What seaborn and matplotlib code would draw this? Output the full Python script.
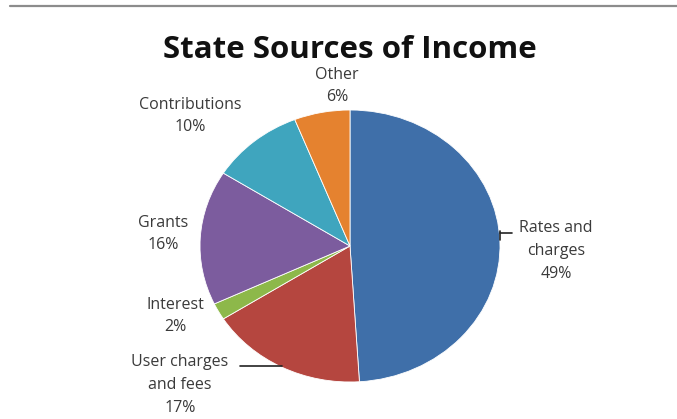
import matplotlib
matplotlib.use("Agg")
import matplotlib.pyplot as plt
import seaborn as sns
from matplotlib.lines import Line2D

categories = ["Rates and\ncharges", "User charges\nand fees", "Interest", "Grants", "Contributions", "Other"]
values = [49, 17, 2, 16, 10, 6]
colors = ["#3F6FA9", "#B5463F", "#8DB84A", "#7C5C9E", "#3FA5BE", "#E5822F"]

sns.set_theme(style="white")
plt.rcParams["font.family"] = ["Open Sans", "DejaVu Sans"]

W, H = 677, 419
fig = plt.figure(figsize=(W / 100, H / 100), dpi=100)
fig.patch.set_facecolor("white")

# pie area in pixels: x 200..500, y 110..382
ax = fig.add_axes([200 / W, 1 - 382 / H, 300 / W, 272 / H])
ax.pie(values, colors=colors, startangle=90, counterclock=False,
       wedgeprops=dict(linewidth=0.6, edgecolor="white"))
ax.set_aspect("auto")
ax.set_xlim(-1, 1)
ax.set_ylim(-1, 1)
ax.axis("off")

def fx(px):
    return px / W

def fy(py):
    return 1 - py / H

# top rule
fig.add_artist(Line2D([fx(10), fx(677)], [fy(6.5), fy(6.5)], color="#8c8c8c", linewidth=1.6))

fig.text(fx(350), fy(58), "State Sources of Income", ha="center", va="baseline",
         fontsize=22.5, fontweight="bold", color="#111111")

# label block centres (pixels)
label_pos = [(556, 251), (180, 385), (175, 316), (163, 234), (190, 116), (337, 86)]
for name, v, (px, py) in zip(categories, values, label_pos):
    fig.text(fx(px), fy(py), f"{name}\n{v}%", ha="center", va="center",
             fontsize=11.5, color="#3a3a3a", linespacing=1.55)

# leader lines
fig.add_artist(Line2D([fx(240), fx(282)], [fy(366), fy(366)], color="#222222", linewidth=1.2))
fig.add_artist(Line2D([fx(500), fx(512)], [fy(233), fy(233)], color="#222222", linewidth=1.2))
fig.add_artist(Line2D([fx(500), fx(500)], [fy(231), fy(240)], color="#222222", linewidth=1.2))

fig.savefig("out.png", dpi=100, facecolor="white")
